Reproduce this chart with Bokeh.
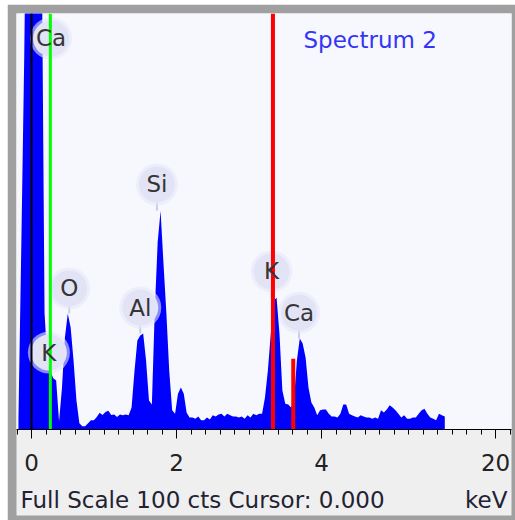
import numpy as np
from bokeh.plotting import figure
from bokeh.models import ColumnDataSource, Range1d, FixedTicker, Label, LabelSet
from bokeh.core.properties import value
from bokeh.embed import file_html
from bokeh.resources import INLINE

# --- EDS spectrum: channel grid (keV) and counts per channel ---------------
channel_start = -0.18
channel_width = 0.04
counts = [
    3, 45, 90, 150, 150, 150, 150, 150, 120, 28, 16,
    14, 12.3, 11.8, 2, 10, 22, 27.9, 24.5, 16.5, 7,
    1.5, 0.8, 0.8, 1.5, 2.2, 2.2, 3.0, 4.0, 3.5, 4.2,
    4.5, 3.5, 3.6, 3.0, 3.6, 3.4, 3.6, 3.4, 5.3, 14,
    21.4, 22.6, 23.1, 16.6, 7, 6, 28.6, 45, 52.6, 40,
    28, 14, 4.6, 3.8, 8.6, 10.1, 8.6, 4, 2.9, 2.9,
    2.6, 3.1, 2.2, 2.2, 2.9, 2.4, 3.4, 3.1, 3.6, 3.8,
    3.1, 3.8, 3.4, 3.1, 3.1, 2.9, 3.1, 2.6, 3.4, 2.9,
    3.8, 3.4, 3.8, 3.8, 7.7, 14.2, 23, 31, 31.7, 23,
    9.4, 6.2, 6.0, 5.3, 7, 16.6, 21.9, 20.7, 17.3, 10.1,
    6.5, 5.3, 3.4, 4.6, 4.8, 4.8, 3.8, 3.1, 3.1, 2.9,
    3.8, 6, 6, 3.8, 3.4, 3.1, 2.9, 3.4, 3.1, 2.9,
    2.9, 2.6, 2.9, 2.6, 4.6, 4.1, 4.8, 5.8, 5.3, 4.6,
    3.8, 2.9, 3.4, 2.6, 2.6, 2.9, 2.9, 3.8, 4.6, 5,
    3.8, 2.9, 2.6, 2.2, 3.8, 3.4, 3.1,
]
energy = [round(channel_start + channel_width * i, 3) for i in range(len(counts))]

# --- peak identification labels -------------------------------------------
label_names = ["Ca", "K", "O", "Al", "Si", "K", "Ca"]
label_energy = [0.27, 0.24, 0.52, 1.50, 1.73, 3.31, 3.69]
label_counts = [94.0, 18.5, 33.9, 29.3, 58.9, 38.0, 28.1]
peak_counts = [94.0, 18.5, 27.9, 23.1, 52.6, 31.7, 21.9]

# --- marker lines (cursor, element lines) ----------------------------------
marker_energy = [0.0, 0.26, 3.33, 3.61]
marker_top = [100, 100, 100, 17]
marker_color = ["#000000", "#00ff00", "#ff0000", "#ff0000"]
marker_width = [2, 3, 4, 4]

# --- axis ticks and status line ---------------------------------------------
tick_values = [0, 2, 4, 6.4]
tick_labels = ["0", "2", "4", "20"]
status_text = "Full Scale 100 cts Cursor: 0.000"
unit_text = "keV"

FONT = "DejaVu Sans"

p = figure(width=508, height=516,
           x_range=Range1d(-0.207, 6.62), y_range=Range1d(0, 100),
           output_backend="svg", toolbar_location=None, y_axis_location=None,
           min_border_left=9, min_border_right=4, min_border_top=9,
           min_border_bottom=91)
p.margin = (4, 0, 0, 7)
p.background_fill_color = "#f7f8fe"
p.border_fill_color = "#a0a0a0"
p.outline_line_color = None
p.grid.visible = False

# spectrum
spec = ColumnDataSource(dict(energy=energy, counts=counts))
p.varea(x="energy", y1=0, y2="counts", source=spec, fill_color="#0000ff")

# label badges
lab = ColumnDataSource(dict(x=label_energy, y=label_counts, peak=peak_counts,
                            name=label_names))
p.segment(x0="x", y0="peak", x1="x", y1="y", source=lab,
          line_color="#c9cce9", line_width=2)
p.scatter(x="x", y="y", size=42, source=lab, fill_color="#e6e8f8",
          fill_alpha=0.6, line_color=None)
p.scatter(x="x", y="y", size=36, source=lab, fill_color="#e2e4f6",
          line_color=None)
p.add_layout(LabelSet(x="x", y="y", text="name", source=lab,
                      text_align="center", text_baseline="middle",
                      text_font=value(FONT), text_font_size="23px",
                      text_color="#353535"))

# marker lines
mk = ColumnDataSource(dict(x=marker_energy, top=marker_top, color=marker_color,
                           w=marker_width))
p.segment(x0="x", y0=0, x1="x", y1="top", source=mk, line_color="color",
          line_width="w")

# energy axis with status line underneath
ax = p.xaxis[0]
minor = [round(v, 1) for v in np.arange(-0.2, 6.61, 0.2)]
ax.ticker = FixedTicker(ticks=tick_values, minor_ticks=minor)
ax.major_label_overrides = dict(zip(tick_values, tick_labels))
ax.background_fill_color = "#efefef"
ax.axis_line_color = "#000000"
ax.major_tick_line_color = "#000000"
ax.minor_tick_line_color = "#000000"
ax.major_tick_in = 0
ax.major_tick_out = 9
ax.minor_tick_in = 0
ax.minor_tick_out = 5
ax.major_label_standoff = 15
ax.major_label_text_font = FONT
ax.major_label_text_font_size = "23px"
ax.major_label_text_color = "#222222"
ax.axis_label = status_text + "\u00a0" * 11 + unit_text
ax.axis_label_standoff = 13
ax.axis_label_text_font = FONT
ax.axis_label_text_font_size = "23px"
ax.axis_label_text_font_style = "normal"
ax.axis_label_text_color = "#222233"

# spectrum name
p.add_layout(Label(x=296, y=35, x_units="canvas", y_units="canvas",
                   text="Spectrum 2", text_font=FONT, text_font_size="23px",
                   text_color="#3535f5", text_baseline="alphabetic"))

open("out.html", "w").write(file_html(p, INLINE))
